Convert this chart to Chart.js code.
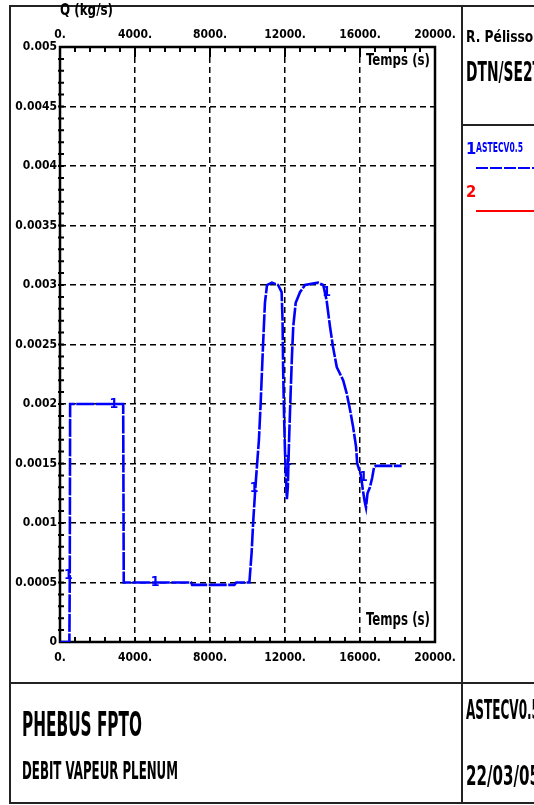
<!DOCTYPE html>
<html><head><meta charset="utf-8">
<script src="https://cdn.jsdelivr.net/npm/chart.js@4.4.0/dist/chart.umd.min.js"></script>
<style>
html,body{margin:0;padding:0;background:#fff;overflow:hidden;}
#wrap{position:relative;width:534px;height:805px;overflow:hidden;background:#fff;}
canvas{position:absolute;left:0;top:0;}
.t{position:absolute;white-space:nowrap;font-family:"Liberation Sans Narrow","DejaVu Sans Condensed","Arial Narrow",sans-serif;font-weight:bold;line-height:1;transform-origin:0 0;color:#000;}
</style></head><body>
<div id="wrap"><canvas id="c" width="534" height="805"></canvas></div>
<script>
// ---- data ----
const timeSeconds = [0, 500, 520, 540, 3370, 3400, 5000, 7000, 7050, 9300, 9400, 10100,
  10220, 10300, 10400, 10490, 10610, 10700, 10830, 10930, 11040, 11300, 11630, 11820,
  11870, 11900, 11950, 12000, 12050, 12100, 12150, 12200, 12230, 12300, 12370, 12440,
  12570, 12800, 13070, 13760, 14040, 14220, 14400, 14560, 14760, 15100, 15290, 15470,
  15630, 15790, 15850, 15950, 16050, 16150, 16250, 16320, 16400, 16530, 16650, 16750,
  16850, 18220];
const steamFlow = [0, 0, 0.0005, 0.002, 0.002, 0.0005, 0.0005, 0.0005, 0.00048, 0.00048, 0.0005, 0.0005,
  0.00075, 0.001, 0.00125, 0.00145, 0.0017, 0.002, 0.0025, 0.00285, 0.003, 0.00302, 0.003, 0.00294,
  0.0027, 0.0023, 0.0019, 0.0016, 0.0014, 0.0012, 0.0013, 0.0016, 0.00176, 0.00209, 0.0024, 0.00265,
  0.00285, 0.00294, 0.003, 0.00302, 0.003, 0.00287, 0.00265, 0.00248, 0.00231, 0.0022, 0.00209, 0.00195,
  0.00181, 0.00164, 0.0015, 0.00145, 0.0014, 0.00128, 0.00118, 0.00113, 0.00125, 0.0013, 0.00138, 0.00147,
  0.00148, 0.00148];
const markerTimes = [445, 2880, 5070, 10350, 12140, 14220, 16180];
const markerFlows = [0.00056, 0.002, 0.0005, 0.00129, 0.00152, 0.00294, 0.00138];
const xTickLabels = ['0.', '4000.', '8000.', '12000.', '16000.', '20000.'];
const yTickLabels = ['0', '0.0005', '0.001', '0.0015', '0.002', '0.0025', '0.003', '0.0035', '0.004', '0.0045', '0.005'];
const seriesName = 'ASTECV0.5';

const FONT = '"Liberation Sans Narrow","DejaVu Sans Condensed","Arial Narrow",sans-serif';
const wrap = document.getElementById('wrap');

function place(txt, x, capTop, capH, width, color){
  const size = capH / 0.729;
  const d = document.createElement('div');
  d.className = 't'; d.textContent = txt;
  d.style.fontSize = size + 'px';
  d.style.left = x + 'px';
  d.style.top = (capTop - 0.1175 * size) + 'px';
  if (color) d.style.color = color;
  wrap.appendChild(d);
  if (width) {
    const w = d.getBoundingClientRect().width;
    d.style.transform = 'scaleX(' + (width / w) + ')';
  }
  return d;
}

const decor = {
  id: 'decor',
  beforeDatasetsDraw(chart) {
    const {ctx, chartArea: a, scales: {x, y}} = chart;
    ctx.save();
    // outer frame and panel separators
    ctx.strokeStyle = '#222'; ctx.lineWidth = 2;
    ctx.strokeRect(10, 6, 540, 797);
    ctx.beginPath();
    ctx.moveTo(462, 6); ctx.lineTo(462, 803);
    ctx.moveTo(10, 683); ctx.lineTo(534, 683);
    ctx.moveTo(462, 125); ctx.lineTo(534, 125);
    ctx.stroke();
    // plot box
    ctx.strokeStyle = '#000'; ctx.lineWidth = 2.5;
    ctx.strokeRect(a.left, a.top, a.right - a.left, a.bottom - a.top);
    // inward minor ticks
    ctx.lineWidth = 2;
    ctx.beginPath();
    for (let v = 800; v < 20000; v += 800) {
      const px = x.getPixelForValue(v);
      const major = v % 4000 === 0;
      ctx.moveTo(px, a.top); ctx.lineTo(px, a.top + (major ? 10 : 5));
      ctx.moveTo(px, a.bottom); ctx.lineTo(px, a.bottom - 5);
    }
    for (let i = 1; i < 50; i++) {
      const py = y.getPixelForValue(i * 0.0001);
      ctx.moveTo(a.left - 2, py); ctx.lineTo(a.left + 4, py);
    }
    ctx.stroke();
    ctx.restore();
  },
  afterDatasetsDraw(chart) {
    const {ctx, scales: {x, y}} = chart;
    ctx.save();
    ctx.font = 'bold 14px ' + FONT;
    ctx.fillStyle = '#0000ff';
    ctx.textAlign = 'center'; ctx.textBaseline = 'middle';
    markerTimes.forEach((t, i) => {
      ctx.fillText('1', x.getPixelForValue(t), y.getPixelForValue(markerFlows[i]));
    });
    ctx.restore();
  }
};

const tickFont = {family: FONT, weight: 'bold', size: 12};

new Chart(document.getElementById('c'), {
  type: 'line',
  data: {
    datasets: [{
      label: seriesName,
      data: timeSeconds.map((t, i) => ({x: t, y: steamFlow[i]})),
      borderColor: '#0000ff', borderWidth: 2.6, borderDash: [18, 1.5],
      pointRadius: 0, tension: 0, fill: false
    }]
  },
  options: {
    responsive: false, animation: false,
    layout: {padding: {left: 0, right: 99, top: 0, bottom: 0}},
    plugins: {legend: {display: false}, tooltip: {enabled: false}},
    scales: {
      x: {
        type: 'linear', position: 'bottom', min: 0, max: 20000,
        afterFit: s => { s.height = 163; },
        afterBuildTicks: s => { s.ticks = xTickLabels.map((l, i) => ({value: i * 4000})); },
        ticks: {callback: (v, i) => xTickLabels[i], font: tickFont, color: '#000', padding: 9, maxRotation: 0, autoSkip: false},
        grid: {color: '#000', lineWidth: 1.5, drawTicks: false},
        border: {display: false, dash: [6, 4]}
      },
      x2: {
        type: 'linear', position: 'top', min: 0, max: 20000,
        afterFit: s => { s.height = 47; },
        afterBuildTicks: s => { s.ticks = xTickLabels.map((l, i) => ({value: i * 4000})); },
        ticks: {callback: (v, i) => xTickLabels[i], font: tickFont, color: '#000', padding: 5, maxRotation: 0, autoSkip: false},
        grid: {display: false, drawTicks: false},
        border: {display: false}
      },
      y: {
        type: 'linear', min: 0, max: 0.005,
        afterFit: s => { s.width = 60; },
        afterBuildTicks: s => { s.ticks = yTickLabels.map((l, i) => ({value: i * 0.0005})); },
        ticks: {callback: (v, i) => yTickLabels[i], font: tickFont, color: '#000', padding: 3, autoSkip: false},
        grid: {color: '#000', lineWidth: 1.5, drawTicks: false},
        border: {display: false, dash: [6, 4]}
      }
    }
  },
  plugins: [decor]
});

// ---- texts ----
place('Q (kg/s)', 60, 4, 12, 53);
place('Temps (s)', 366, 55, 11, 64);
place('Temps (s)', 366, 612, 13, 64);
place('R. Pélisson', 466, 32, 11, 76);
place('DTN/SE2T', 466, 61, 20, 76);
place('1', 466, 143, 12, null, '#0000ff');
place(seriesName, 476, 143, 10, 47, '#0000ff');
place('2', 466, 186, 12, null, '#ff0000');
place('PHEBUS FPTO', 22, 713, 24, 120);
place('DEBIT VAPEUR PLENUM', 22, 762, 18, 156);
place('ASTECV0.5', 466, 700, 19, 74);
place('22/03/05', 466, 765, 20, 74);

// legend sample lines
(function(){
  const b = document.createElement('div');
  b.style.cssText = 'position:absolute;left:476px;top:167px;width:60px;height:2px;background:repeating-linear-gradient(to right,#0000ff 0 12px,transparent 12px 14px);';
  wrap.appendChild(b);
  const r = document.createElement('div');
  r.style.cssText = 'position:absolute;left:476px;top:210px;width:60px;height:2px;background:#ff0000;';
  wrap.appendChild(r);
})();
</script>
</body></html>
